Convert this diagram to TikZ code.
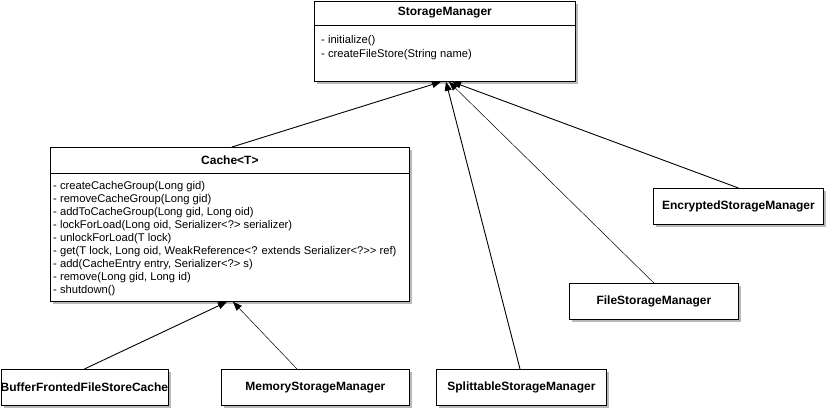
\documentclass[tikz,border=0pt]{standalone}
\usepackage{fontspec}
\setmainfont{Liberation Sans}
\usetikzlibrary{arrows.meta,shadows}
\begin{document}
\begin{tikzpicture}[x=1pt,y=-1pt,
  classbox/.style={draw=black, fill=white, line width=0.8pt, inner sep=0pt, anchor=north west,
    drop shadow={shadow xshift=3pt, shadow yshift=-3pt, fill=black!50, opacity=0.55}},
  titletext/.style={font=\fontsize{12}{14}\selectfont\bfseries, inner sep=0pt},
  membertext/.style={font=\fontsize{11.2}{13}\selectfont, align=left, inner sep=0pt, anchor=north west},
  gen/.style={draw=black, line width=0.9pt, -{Triangle[length=9pt,width=7pt]}},
  genthin/.style={draw=black, line width=0.5pt, -{Triangle[length=9pt,width=7pt]}}
]
\useasboundingbox (0,0) rectangle (827,411);

% StorageManager
\node[classbox, minimum width=261pt, minimum height=80pt] (sm) at (314,1) {};
\draw[line width=0.8pt] ([yshift=-24pt]sm.north west) -- ([yshift=-24pt]sm.north east);
\node[titletext] (smt) at ([yshift=-12pt]sm.north) {StorageManager};
\node[membertext, font=\fontsize{11.2}{14}\selectfont] (smm) at (321,35) {- initialize()\\- createFileStore(String name)};

% Cache<T>
\node[classbox, minimum width=359pt, minimum height=154pt] (cache) at (50,147) {};
\draw[line width=0.8pt] ([yshift=-26pt]cache.north west) -- ([yshift=-26pt]cache.north east);
\node[titletext] (cachet) at ([yshift=-13pt]cache.north) {Cache<T>};
\node[membertext] (cachem) at (53,181) {- createCacheGroup(Long gid)\\
- removeCacheGroup(Long gid)\\
- addToCacheGroup(Long gid, Long oid)\\
- lockForLoad(Long oid, Serializer<?> serializer)\\
- unlockForLoad(T lock)\\
- get(T lock, Long oid, WeakReference<? extends Serializer<?>{}> ref)\\
- add(CacheEntry entry, Serializer<?> s)\\
- remove(Long gid, Long id)\\
- shutdown()};

% Leaf classes
\node[classbox, minimum width=167pt, minimum height=36pt] (buf) at (0.5,369) {};
\node[titletext] (buft) at (buf.center) {BufferFrontedFileStoreCache};
\node[classbox, minimum width=188pt, minimum height=36pt] (mem) at (221,369) {};
\node[titletext] (memt) at (mem.center) {MemoryStorageManager};
\node[classbox, minimum width=170pt, minimum height=36pt] (split) at (436,369) {};
\node[titletext] (splitt) at (split.center) {SplittableStorageManager};
\node[classbox, minimum width=169pt, minimum height=36pt] (file) at (569,283) {};
\node[titletext] (filet) at (file.center) {FileStorageManager};
\node[classbox, minimum width=170pt, minimum height=36pt] (enc) at (653,188) {};
\node[titletext] (enct) at (enc.center) {EncryptedStorageManager};

% Generalizations
\draw[gen] ([xshift=182pt]cache.north west) -- ([xshift=127pt]sm.south west);
\draw[gen] ([xshift=84pt]split.north west) -- ([xshift=132pt]sm.south west);
\draw[genthin] (file.north) -- ([xshift=135pt]sm.south west);
\draw[gen] (enc.north) -- ([xshift=138pt]sm.south west);
\draw[gen] (buf.north) -- ([xshift=177pt]cache.south west);
\draw[genthin] ([xshift=76pt]mem.north west) -- ([xshift=183pt]cache.south west);
\end{tikzpicture}
\end{document}
